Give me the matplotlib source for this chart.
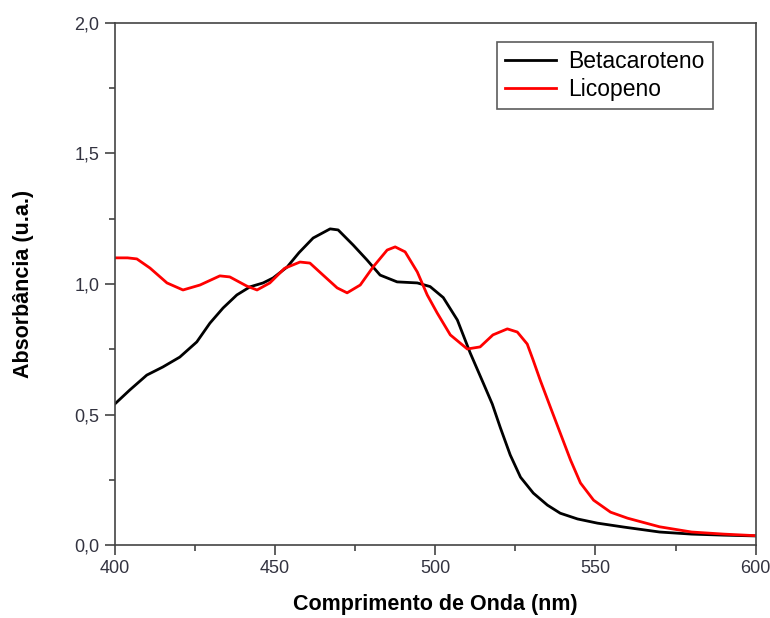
import matplotlib
matplotlib.use("Agg")
import matplotlib.pyplot as plt
from matplotlib.ticker import MultipleLocator, FuncFormatter

plt.rcParams['font.family'] = ['Liberation Sans', 'DejaVu Sans']

wl_beta = [400, 404.7, 410, 415, 420.3, 425.6, 429.7, 433.8, 438.1, 442.2, 446.3, 449.4, 453.8,
           457.5, 461.9, 467.2, 469.7, 474.4, 478.7, 482.8, 488.1, 494.4, 498.4, 502.5, 506.9, 510.9,
           515, 517.8, 520.3, 523.4, 526.6, 530.6, 535, 539, 544.4, 550.6, 558.8, 570, 580, 590, 600]
abs_beta = [0.540, 0.594, 0.651, 0.682, 0.72, 0.778, 0.85, 0.908, 0.958, 0.989, 1.004, 1.023, 1.065,
            1.12, 1.176, 1.211, 1.207, 1.149, 1.092, 1.034, 1.008, 1.004, 0.990, 0.948, 0.862, 0.736,
            0.62, 0.54, 0.45, 0.345, 0.26, 0.199, 0.153, 0.122, 0.10, 0.084, 0.069, 0.05, 0.042,
            0.038, 0.035]

wl_lico = [400, 404, 406.9, 411, 416.3, 421.3, 426.6, 432.8, 435.9, 441.2, 444.4, 448.4, 453,
           457.8, 460.9, 465, 469.4, 472.5, 476.6, 480.6, 485, 487.5, 490.6, 494.4, 497.5, 500.6,
           504.7, 510, 514, 518, 522.5, 525.6, 528.7, 530.5, 532.8, 535.9, 539, 542.2, 545.3, 549.4,
           554.7, 560, 570, 580, 590, 600]
abs_lico = [1.10, 1.10, 1.096, 1.061, 1.004, 0.977, 0.996, 1.031, 1.027, 0.992, 0.977, 1.004, 1.06,
            1.084, 1.08, 1.034, 0.985, 0.966, 0.996, 1.065, 1.13, 1.142, 1.123, 1.046, 0.958, 0.889,
            0.805, 0.751, 0.759, 0.805, 0.828, 0.816, 0.77, 0.71, 0.63, 0.529, 0.429, 0.326, 0.238,
            0.172, 0.126, 0.103, 0.07, 0.05, 0.042, 0.036]

fig = plt.figure(figsize=(7.7, 6.18), dpi=100)
ax = fig.add_axes([0.149, 0.118, 0.8325, 0.845])

ax.plot(wl_beta, abs_beta, color='black', lw=2, label='Betacaroteno')
ax.plot(wl_lico, abs_lico, color='#ff0000', lw=2, label='Licopeno')

ax.set_xlim(400, 600)
ax.set_ylim(0, 2.0)
ax.xaxis.set_major_locator(MultipleLocator(50))
ax.xaxis.set_minor_locator(MultipleLocator(25))
ax.yaxis.set_major_locator(MultipleLocator(0.5))
ax.yaxis.set_minor_locator(MultipleLocator(0.25))
ax.yaxis.set_major_formatter(FuncFormatter(lambda v, p: f"{v:.1f}".replace('.', ',')))
ax.tick_params(which='both', direction='out', top=False, right=False, color='#444444',
               labelsize=13, labelcolor='#333340')
ax.tick_params(which='major', length=7, width=1.2, pad=4)
ax.tick_params(which='minor', length=4.5, width=1.2)
for s in ax.spines.values():
    s.set_color('#444444')
    s.set_linewidth(1.2)

ax.set_xlabel('Comprimento de Onda (nm)', fontsize=15.5, fontweight='bold', labelpad=12)
ax.set_ylabel('Absorbância (u.a.)', fontsize=15.5, fontweight='bold', labelpad=29)

leg = ax.legend(loc='upper right', bbox_to_anchor=(0.933, 0.964), borderaxespad=0,
                fontsize=16.5, frameon=True, fancybox=False, edgecolor='#333333',
                handlelength=2.2, borderpad=0.35, labelspacing=0.25, handletextpad=0.55)
leg.get_frame().set_linewidth(1.2)

fig.savefig('out.png', dpi=100)
